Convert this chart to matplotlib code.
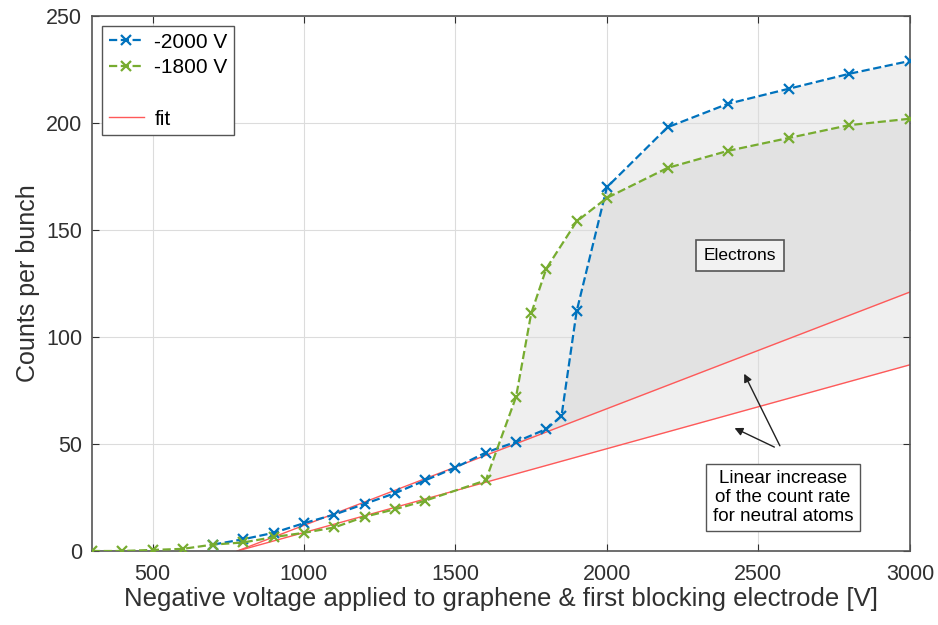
import numpy as np
import matplotlib.pyplot as plt
from matplotlib.lines import Line2D

plt.rcParams['font.family'] = ['Liberation Sans', 'DejaVu Sans']

# data
v_2000 = [700, 800, 900, 1000, 1100, 1200, 1300, 1400, 1500, 1600, 1700, 1800,
          1850, 1900, 2000, 2200, 2400, 2600, 2800, 3000]
c_2000 = [3, 5.5, 8.5, 13, 17, 22, 27, 33, 39, 46, 51, 57,
          63, 112, 170, 198, 209, 216, 223, 229]

v_1800 = [300, 400, 500, 600, 700, 800, 900, 1000, 1100, 1200, 1300, 1400, 1600,
          1700, 1750, 1800, 1900, 2000, 2200, 2400, 2600, 2800, 3000]
c_1800 = [0, 0, 0.5, 1, 3, 4, 6.5, 8.5, 11, 16, 19.5, 23.5, 33,
          72, 111, 132, 154, 165, 179, 187, 193, 199, 202]

fit_v = [780, 3000]
fit_high = [0, 121]
fit_low = [0, 87]

blue = (0, 0.447, 0.741)
green = (0.466, 0.674, 0.188)
red = (1.0, 0.35, 0.35)
light = '#efefef'
dark = '#e2e2e2'

fig = plt.figure(figsize=(9.38, 6.25), dpi=100)
ax = fig.add_axes([0.098, 0.1184, 0.872, 0.856])

# shaded regions between the curves and the linear fits
grid = np.linspace(1600, 3000, 600)
g = np.interp(grid, v_1800, c_1800)
b = np.interp(grid, v_2000, c_2000)
lo = np.interp(grid, fit_v, fit_low)
hi = np.interp(grid, fit_v, fit_high)
ax.fill_between(grid, lo, g, where=g >= lo, color=light, lw=0, zorder=0.5)
ax.fill_between(grid, hi, b, where=b >= hi, color=light, lw=0, zorder=0.5)
top = np.minimum(g, b)
ax.fill_between(grid, hi, top, where=top >= hi, color=dark, lw=0, zorder=0.6)

ax.plot(v_2000, c_2000, '--x', color=blue, lw=1.6, ms=6.5, mew=1.6, zorder=3)
ax.plot(v_1800, c_1800, '--x', color=green, lw=1.6, ms=6.5, mew=1.6, zorder=3)
ax.plot(fit_v, fit_high, color=red, lw=1.0, zorder=2)
ax.plot(fit_v, fit_low, color=red, lw=1.0, zorder=2)

ax.set_xlim(300, 3000)
ax.set_ylim(0, 250)
ax.set_xticks([500, 1000, 1500, 2000, 2500, 3000])
ax.set_yticks([0, 50, 100, 150, 200, 250])
ax.grid(True, color='#dcdcdc', lw=0.8, zorder=0)
ax.set_axisbelow(True)
ax.tick_params(direction='in', top=True, right=True, labelsize=15.5,
               colors='#303030', length=5)
ax.tick_params(axis='x', pad=9)
ax.tick_params(axis='y', pad=7)
for s in ax.spines.values():
    s.set_color('#555555')
    s.set_linewidth(1.2)

ax.set_xlabel('Negative voltage applied to graphene & first blocking electrode [V]',
              fontsize=18.5, color='#303030', labelpad=2)
ax.set_ylabel('Counts per bunch', fontsize=18, color='#303030', labelpad=4)

ax.text(2440, 138, 'Electrons', fontsize=12.5, ha='center', va='center', zorder=5,
        bbox=dict(boxstyle='square,pad=0.45', fc='#f2f2f2', ec='#555555', lw=1.2))
ax.text(2581, 25, 'Linear increase\nof the count rate\nfor neutral atoms', fontsize=13.5,
        ha='center', va='center', linespacing=1.12, zorder=5,
        bbox=dict(boxstyle='square,pad=0.35', fc='white', ec='#555555', lw=1.0))
ax.annotate('', xy=(2449, 84), xytext=(2575, 48),
            arrowprops=dict(arrowstyle='-|>', color='#222222', lw=1.0, mutation_scale=12),
            zorder=5)
ax.annotate('', xy=(2413, 58), xytext=(2561, 48),
            arrowprops=dict(arrowstyle='-|>', color='#222222', lw=1.0, mutation_scale=12),
            zorder=5)

handles = [Line2D([], [], ls='--', marker='x', color=blue, lw=1.6, ms=6.5, mew=1.6),
           Line2D([], [], ls='--', marker='x', color=green, lw=1.6, ms=6.5, mew=1.6),
           Line2D([], [], ls='none'),
           Line2D([], [], color=red, lw=1.0)]
leg = ax.legend(handles, ['-2000 V', '-1800 V', ' ', 'fit'], loc='upper left',
                fontsize=15, fancybox=False, framealpha=1, edgecolor='#555555',
                handlelength=1.7, handletextpad=0.5, borderaxespad=0.5,
                labelspacing=0.32, borderpad=0.3)
leg.get_frame().set_linewidth(1.0)

fig.savefig('out.png', dpi=100)
